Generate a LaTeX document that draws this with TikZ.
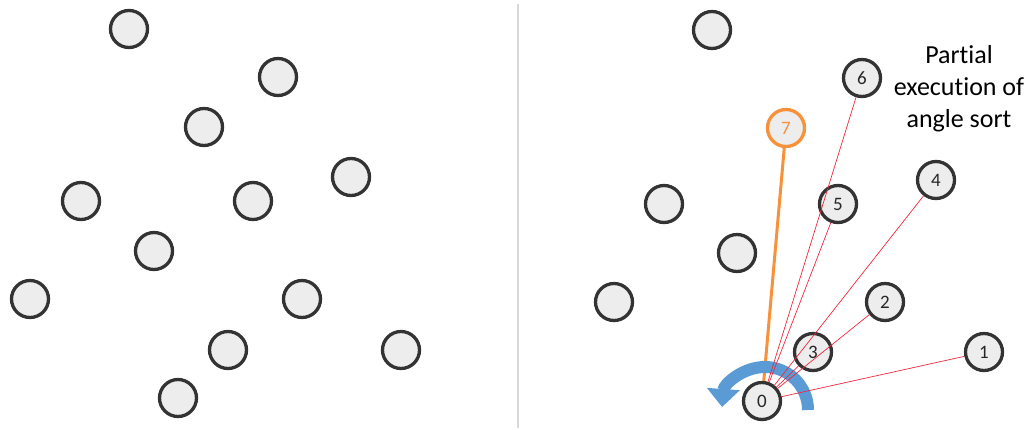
\documentclass[tikz,border=0pt]{standalone}
\usepackage{fontspec}
\setmainfont{Carlito}[Ligatures=NoCommon]
\usetikzlibrary{arrows.meta}
\definecolor{ptfill}{HTML}{EDEDED}
\definecolor{ptdraw}{HTML}{333333}
\definecolor{ptorange}{HTML}{F7913A}
\definecolor{ptred}{HTML}{F0283C}
\definecolor{ptblue}{HTML}{5B9BD5}
\definecolor{divgray}{HTML}{D9D9D9}
\tikzset{
  pt/.style={circle, draw=ptdraw, fill=ptfill, line width=3.3pt, minimum size=37pt, inner sep=0pt, font=\fontsize{19}{19}\selectfont, text=black!85},
  ptsel/.style={pt, draw=ptorange, text=ptorange},
  ray/.style={draw=ptred, line width=0.7pt},
  selray/.style={draw=ptorange, line width=3pt},
  sweep/.style={draw=ptblue, line width=12pt, -{Triangle[length=18pt,width=32pt]}},
  divider/.style={draw=divgray, line width=1.5pt},
  caption/.style={align=center, font=\fontsize{26}{32}\selectfont, text=black}
}
\begin{document}
\begin{tikzpicture}[x=1pt,y=-1pt]
\useasboundingbox (0,0) rectangle (1033,429);
% divider
\coordinate (dtop) at (518,4);
\coordinate (dbot) at (518,428);
\draw[divider] (dtop) -- (dbot);
% left panel
\node[pt] (a1) at (129,29) {};
\node[pt] (a2) at (278,77) {};
\node[pt] (a3) at (204,127) {};
\node[pt] (a4) at (351,177) {};
\node[pt] (a5) at (81,201) {};
\node[pt] (a6) at (253,201) {};
\node[pt] (a7) at (154,251) {};
\node[pt] (a8) at (30,299) {};
\node[pt] (a9) at (302,299) {};
\node[pt] (a10) at (228,350) {};
\node[pt] (a11) at (401,350) {};
\node[pt] (a12) at (178,398) {};
% right panel
\node[pt] (b1) at (712,30) {};
\node[pt] (n6) at (862,78) {6};
\node[ptsel] (n7) at (786,128) {7};
\node[pt] (n4) at (936,180) {4};
\node[pt] (b5) at (664,204) {};
\node[pt] (n5) at (838,204) {5};
\node[pt] (b7) at (737,253) {};
\node[pt] (n2) at (885,302) {2};
\node[pt] (b8) at (614,302) {};
\node[pt] (n3) at (813,352) {3};
\node[pt] (n1) at (984,352) {1};
\node[pt] (n0) at (762,401) {0};
% rays
\draw[selray] (n0) -- (n7);
\coordinate (arcstart) at (808,410);
\draw[sweep] (arcstart) arc[start angle=0, end angle=-176, radius=43];
\draw[ray] (n0) -- (n1);
\draw[ray] (n0) -- (n2);
\draw[ray] (n0) -- (n3);
\draw[ray] (n0) -- (n4);
\draw[ray] (n0) -- (n5);
\draw[ray] (n0) -- (n6);
% caption
\node[caption] (cap) at (959,89) {Partial\\execution of\\angle sort};
\end{tikzpicture}
\end{document}
